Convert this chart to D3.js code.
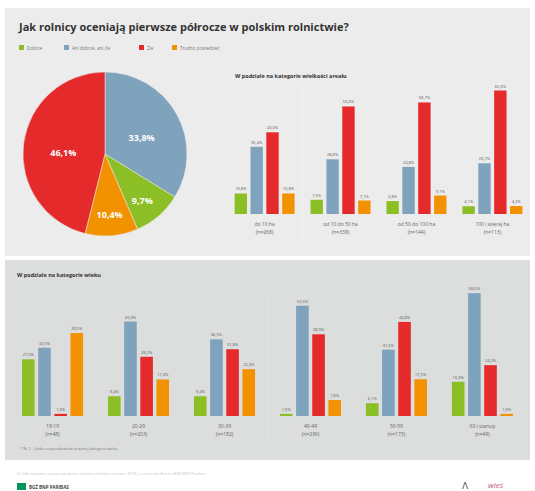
<!DOCTYPE html>
<html>
<head>
<meta charset="utf-8">
<script src="https://cdn.jsdelivr.net/npm/d3@7"></script>
<style>
  body { margin: 0; background: #fff; }
  svg { display: block; font-family: "Open Sans", "Liberation Sans", sans-serif; }
</style>
</head>
<body>
<svg id="canvas"></svg>
<script>
let width = 535;
let height = 491;

// odpowiedzi
let series = ['Dobrze', 'Ani dobrze, ani źle', 'Źle', 'Trudno powiedzieć'];
let colors = ['#8cbf26', '#7fa2bd', '#e42a2a', '#f39200'];

// ogółem (pie)
let totalValues = [9.7, 33.8, 46.1, 10.4];
let pieOrder = [1, 0, 3, 2]; // clockwise from top: blue, green, orange, red

// areał
let areaCats = ['do 10 ha', 'od 10 do 50 ha', 'od 50 do 100 ha', '100 i więcej ha'];
let areaN = ['(n=268)', '(n=338)', '(n=144)', '(n=113)'];
let areaDobrze = [10.8, 7.5, 6.8, 4.1];
let areaAni = [35.4, 28.8, 24.8, 26.7];
let areaZle = [43.0, 56.6, 58.7, 65.0];
let areaTrudno = [10.8, 7.1, 9.7, 4.2];

// wiek
let ageCats = ['18-19', '20-29', '30-39', '40-49', '50-59', '60 i starszy'];
let ageN = ['(n=48)', '(n=203)', '(n=182)', '(n=236)', '(n=173)', '(n=49)'];
let ageDobrze = [27.0, 9.4, 9.4, 1.0, 6.1, 16.3];
let ageAni = [32.5, 45.0, 36.5, 52.5, 31.6, 58.5];
let ageZle = [1.0, 28.2, 31.8, 38.9, 44.8, 24.2];
let ageTrudno = [39.5, 17.4, 22.3, 7.6, 17.5, 1.0];

let svg = d3.select('#canvas').attr('width', width).attr('height', height);

let fmt = v => d3.format('.1f')(v).replace('.', ',') + '%';

/* panels */
svg.append('rect').attr('x', 5).attr('y', 8).attr('width', 525).attr('height', 248).attr('fill', '#ececec');
svg.append('rect').attr('x', 5).attr('y', 260).attr('width', 525).attr('height', 200).attr('fill', '#dcdddd');

/* title + legend */
svg.append('text').attr('x', 19).attr('y', 31)
    .attr('font-size', 11).attr('font-weight', 'bold').attr('fill', '#333')
    .text('Jak rolnicy oceniają pierwsze półrocze w polskim rolnictwie?');

let legendX = [19, 64, 139, 172];
series.forEach((s, i) => {
    let g = svg.append('g').attr('transform', 'translate(' + legendX[i] + ',45)');
    g.append('rect').attr('width', 5).attr('height', 5).attr('fill', colors[i]);
    g.append('text').attr('x', 8).attr('y', 4.5).attr('font-size', 4.5).attr('fill', '#777').text(s);
});

/* pie */
let pie = d3.pie().sort(null).value(d => d.v);
let pieData = pie(pieOrder.map(i => ({ v: totalValues[i], c: colors[i] })));
let radius = 82;
let arc = d3.arc().innerRadius(0).outerRadius(radius);
// big slices get their label nearer the centre
let labelPos = d => {
    let r = d.data.v > 30 ? 42 : 57;
    return d3.arc().innerRadius(r).outerRadius(r).centroid(d);
};
let pg = svg.append('g').attr('transform', 'translate(105,154)');
pg.selectAll('path').data(pieData).enter().append('path')
    .attr('d', arc).attr('fill', d => d.data.c)
    .attr('stroke', '#ececec').attr('stroke-width', 0.5);
pg.selectAll('text').data(pieData).enter().append('text')
    .attr('transform', d => 'translate(' + labelPos(d) + ')')
    .attr('text-anchor', 'middle').attr('y', 7)
    .attr('font-size', 9).attr('font-weight', 'bold').attr('fill', '#fff')
    .text(d => fmt(d.data.v));

/* grouped bar chart helper */
let drawBars = (opts) => {
    let rows = opts.cats.map((c, i) => ({ cat: c, n: opts.n[i], vals: opts.data.map(arr => arr[i]) }));
    let x0 = d3.scaleBand().domain(opts.cats).range(opts.xRange)
        .paddingInner(opts.padIn).paddingOuter(opts.padOut);
    let x1 = d3.scaleBand().domain(d3.range(series.length)).range([0, x0.bandwidth()]).paddingInner(0.22);
    let y = d3.scaleLinear().domain([0, 100]).range([opts.base, opts.base - opts.pxPerPct * 100]);

    // dividers
    let step = x0.step();
    opts.cats.slice(1).forEach(c => {
        let xd = x0(c) - (step - x0.bandwidth()) / 2;
        svg.append('line').attr('x1', xd).attr('x2', xd)
            .attr('y1', opts.divTop).attr('y2', opts.divBottom)
            .attr('stroke', opts.divColor).attr('stroke-width', 0.6);
    });

    let g = svg.append('g');
    let groups = g.selectAll('g.grp').data(rows).enter().append('g')
        .attr('class', 'grp')
        .attr('transform', d => 'translate(' + x0(d.cat) + ',0)');

    groups.selectAll('rect').data(d => d.vals).enter().append('rect')
        .attr('x', (v, i) => x1(i)).attr('width', x1.bandwidth())
        .attr('y', v => y(v)).attr('height', v => opts.base - y(v))
        .attr('fill', (v, i) => colors[i]);

    groups.selectAll('text.val').data(d => d.vals).enter().append('text')
        .attr('class', 'val')
        .attr('x', (v, i) => x1(i) + x1.bandwidth() / 2).attr('y', v => y(v) - 3)
        .attr('text-anchor', 'middle').attr('font-size', 4).attr('fill', '#555')
        .text(v => fmt(v));

    groups.append('text').attr('x', x0.bandwidth() / 2).attr('y', opts.base + 12)
        .attr('text-anchor', 'middle').attr('font-size', 5).attr('fill', '#666')
        .text(d => d.cat);
    groups.append('text').attr('x', x0.bandwidth() / 2).attr('y', opts.base + 20)
        .attr('text-anchor', 'middle').attr('font-size', 5).attr('fill', '#666')
        .text(d => d.n);
};

svg.append('text').attr('x', 235).attr('y', 78)
    .attr('font-size', 5.5).attr('font-weight', 'bold').attr('fill', '#333')
    .text('W podziale na kategorie wielkości areału');

drawBars({
    cats: areaCats, n: areaN,
    data: [areaDobrze, areaAni, areaZle, areaTrudno],
    xRange: [227, 530], padIn: 0.21, padOut: 0.1,
    base: 214, pxPerPct: 1.9,
    divTop: 85, divBottom: 240, divColor: '#f3f3f3'
});

svg.append('text').attr('x', 17).attr('y', 277)
    .attr('font-size', 5.5).attr('font-weight', 'bold').attr('fill', '#333')
    .text('W podziale na kategorie wieku');

drawBars({
    cats: ageCats, n: ageN,
    data: [ageDobrze, ageAni, ageZle, ageTrudno],
    xRange: [10, 525], padIn: 0.29, padOut: 0.14,
    base: 416, pxPerPct: 2.1,
    divTop: 290, divBottom: 440, divColor: '#e3e4e4'
});

svg.append('text').attr('x', 20).attr('y', 450)
    .attr('font-size', 4).attr('fill', '#777')
    .text('* N=1 - liczba respondentów w danej kategorii wieku');

/* footer */
svg.append('text').attr('x', 17).attr('y', 475)
    .attr('font-size', 4).attr('fill', '#c8c8c8')
    .text('Źródło: badanie przeprowadzone wśród rolników, czerwiec 2016, na zlecenie Banku BGŻ BNP Paribas');
svg.append('rect').attr('x', 17).attr('y', 483).attr('width', 9).attr('height', 7).attr('fill', '#00965e');
svg.append('text').attr('x', 29).attr('y', 489)
    .attr('font-size', 4.5).attr('font-weight', 'bold').attr('fill', '#444')
    .text('BGŻ BNP PARIBAS');
svg.append('text').attr('x', 462).attr('y', 489)
    .attr('font-size', 9).attr('fill', '#555').text('ꓥ');
svg.append('text').attr('x', 488).attr('y', 488)
    .attr('font-size', 8).attr('font-style', 'italic').attr('fill', '#c9577a').text('wieś');
</script>
</body>
</html>
